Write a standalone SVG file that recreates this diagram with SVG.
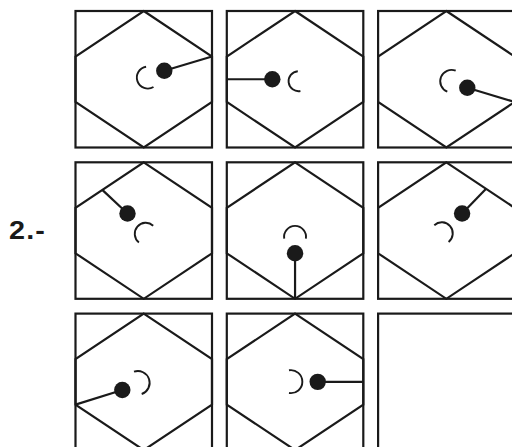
<svg xmlns="http://www.w3.org/2000/svg" xmlns:xlink="http://www.w3.org/1999/xlink" width="512" height="447" viewBox="0 0 512 447">
<style>
.frame{fill:none;stroke:#1a1a1a;stroke-width:2.2;stroke-linejoin:miter}
.stick{fill:none;stroke:#1a1a1a;stroke-width:2.2}
.dot{fill:#1a1a1a}
.arc{fill:none;stroke:#1a1a1a;stroke-width:1.9}
.lbl{font-family:"Liberation Sans",Arial,sans-serif;font-weight:bold;font-size:25px;fill:#1a1a1a}
</style>
<defs>
<g id="cell">
<rect class="frame" x="0" y="0" width="136.5" height="136.5"/>
<path class="frame" d="M68.25,0 L136.5,45.5 L136.5,91 L68.25,136.5 L0,91 L0,45.5 Z"/>
</g>
<g id="cellbox">
<rect class="frame" x="0" y="0" width="136.5" height="136.5"/>
</g>
</defs>
<rect width="512" height="447" fill="#fff"/>
<g id="label"><text class="lbl" transform="translate(9,239) scale(1.15,1)" letter-spacing="1">2.-</text></g>
<g id="fig1" transform="translate(75.5,11)">
<use xlink:href="#cell"/>
<line class="stick" x1="88.8" y1="59.7" x2="136.5" y2="45.5"/>
<circle class="dot" cx="88.8" cy="59.7" r="8.2"/>
<path class="arc" d="M70.6,55.7 A11,11 0 1 0 78,76"/>
</g>
<g id="fig2" transform="translate(226.8,11)">
<use xlink:href="#cell"/>
<line class="stick" x1="45.5" y1="68.25" x2="0" y2="68.25"/>
<circle class="dot" cx="45.5" cy="68.25" r="8.2"/>
<path class="arc" d="M71,60.2 A10,10 0 1 0 73.6,80"/>
</g>
<g id="fig3" transform="translate(378.1,11)">
<use xlink:href="#cell"/>
<line class="stick" x1="89.2" y1="76.7" x2="136.5" y2="91"/>
<circle class="dot" cx="89.2" cy="76.7" r="8.2"/>
<path class="arc" d="M77.6,59.7 A11.3,11.3 0 1 0 69.2,80.7"/>
</g>
<g id="fig4" transform="translate(75.5,162.3)">
<use xlink:href="#cell"/>
<line class="stick" x1="52" y1="51.2" x2="26.8" y2="27.6"/>
<circle class="dot" cx="52" cy="51.2" r="8.2"/>
<path class="arc" d="M77.7,63.4 A11,11 0 1 0 63.4,80.1"/>
</g>
<g id="fig5" transform="translate(226.8,162.3)">
<use xlink:href="#cell"/>
<line class="stick" x1="68.25" y1="91" x2="68.25" y2="136.5"/>
<circle class="dot" cx="68.25" cy="91" r="8.2"/>
<path class="arc" d="M57.4,76.4 A11,11 0 1 1 79.1,76.4"/>
</g>
<g id="fig6" transform="translate(378.1,162.3)">
<use xlink:href="#cell"/>
<line class="stick" x1="84" y1="51.2" x2="108" y2="26.5"/>
<circle class="dot" cx="84" cy="51.2" r="8.2"/>
<path class="arc" d="M56.2,62.9 A11,11 0 1 1 70.5,79.6"/>
</g>
<g id="fig7" transform="translate(75.5,313.6)">
<use xlink:href="#cell"/>
<line class="stick" x1="46.8" y1="76.4" x2="0" y2="91"/>
<circle class="dot" cx="46.8" cy="76.4" r="8.2"/>
<path class="arc" d="M58.5,58.1 A11.5,11.5 0 1 1 66.2,80.4"/>
</g>
<g id="fig8" transform="translate(226.8,313.6)">
<use xlink:href="#cell"/>
<line class="stick" x1="90.9" y1="68.25" x2="136.5" y2="68.25"/>
<circle class="dot" cx="90.9" cy="68.25" r="8.2"/>
<path class="arc" d="M62.2,56.7 A11.5,11.5 0 1 1 62.2,79.4"/>
</g>
<g id="fig9" transform="translate(378.1,313.6)">
<use xlink:href="#cellbox"/>
</g>
<g id="connectors"/>
</svg>
